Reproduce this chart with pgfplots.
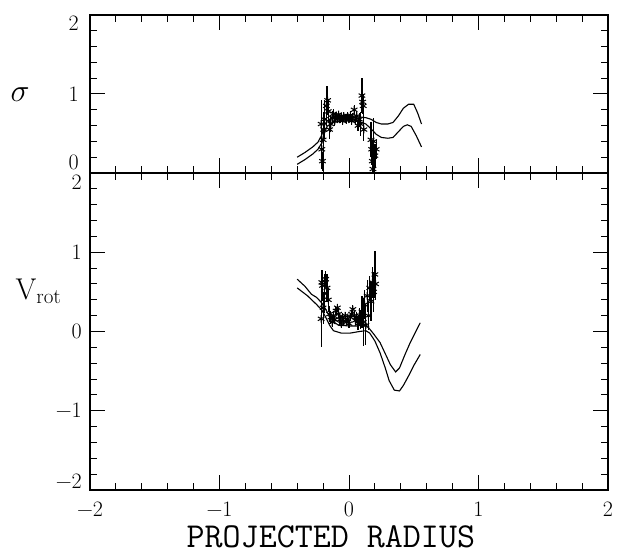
\documentclass[border=0pt]{standalone}
\usepackage{fix-cm}
\usepackage{pgfplots}
\pgfplotsset{compat=1.18}
\usepackage{pgfplotstable}
\usetikzlibrary{plotmarks}

% model curves, sigma panel
\pgfplotstableread{
x y
-0.40 0.20
-0.34 0.26
-0.28 0.33
-0.24 0.39
-0.21 0.48
-0.19 0.60
-0.17 0.66
-0.12 0.70
-0.05 0.71
0.02 0.71
0.08 0.71
0.13 0.70
0.17 0.68
0.21 0.64
0.25 0.62
0.30 0.62
0.34 0.64
0.38 0.72
0.42 0.82
0.46 0.87
0.50 0.87
0.53 0.76
0.56 0.62
}\sigA
\pgfplotstableread{
x y
-0.40 0.11
-0.34 0.17
-0.28 0.24
-0.24 0.30
-0.21 0.38
-0.19 0.50
-0.17 0.59
-0.12 0.64
-0.05 0.66
0.02 0.66
0.08 0.65
0.13 0.62
0.17 0.56
0.21 0.49
0.25 0.45
0.30 0.44
0.34 0.45
0.38 0.52
0.42 0.59
0.45 0.61
0.48 0.59
0.52 0.47
0.56 0.33
}\sigB
% measured sigma with errors
\pgfplotstableread{
x y e
-0.215 0.62 0.30
-0.21 0.30 0.25
-0.205 0.15 0.12
-0.20 0.42 0.35
-0.195 0.55 0.20
-0.19 0.68 0.25
-0.175 0.85 0.25
-0.165 0.92 0.18
-0.16 0.78 0.15
-0.15 0.55 0.12
-0.14 0.62 0.10
-0.13 0.70 0.08
-0.12 0.75 0.06
-0.11 0.66 0.06
-0.10 0.72 0.05
-0.09 0.69 0.05
-0.08 0.74 0.05
-0.07 0.68 0.05
-0.06 0.71 0.05
-0.05 0.66 0.05
-0.04 0.72 0.05
-0.03 0.70 0.05
-0.02 0.67 0.05
-0.01 0.72 0.05
0.00 0.69 0.05
0.01 0.73 0.05
0.02 0.66 0.05
0.03 0.71 0.05
0.04 0.80 0.06
0.05 0.67 0.06
0.06 0.72 0.06
0.07 0.60 0.07
0.08 0.68 0.08
0.09 0.62 0.15
0.10 0.98 0.22
0.105 0.90 0.15
0.11 0.85 0.15
0.115 0.55 0.15
0.17 0.42 0.22
0.175 0.30 0.20
0.18 0.15 0.25
0.185 0.05 0.20
0.19 0.40 0.30
0.20 0.22 0.15
0.21 0.30 0.12
}\sigObs

% model curves, rotation panel
\pgfplotstableread{
x y
-0.40 0.66
-0.34 0.57
-0.29 0.47
-0.25 0.43
-0.21 0.36
-0.18 0.28
-0.16 0.22
-0.12 0.12
-0.08 0.08
0.00 0.07
0.06 0.07
0.11 0.08
0.15 0.05
0.19 -0.03
0.24 -0.14
0.28 -0.28
0.32 -0.42
0.36 -0.51
0.39 -0.46
0.43 -0.30
0.47 -0.15
0.51 -0.02
0.55 0.11
}\rotA
\pgfplotstableread{
x y
-0.40 0.55
-0.32 0.45
-0.25 0.34
-0.21 0.27
-0.18 0.18
-0.15 0.08
-0.12 0.01
-0.06 -0.02
0.01 -0.02
0.08 0.00
0.13 0.01
0.16 -0.02
0.20 -0.12
0.24 -0.27
0.28 -0.46
0.31 -0.62
0.35 -0.74
0.39 -0.75
0.42 -0.68
0.46 -0.56
0.50 -0.43
0.55 -0.29
}\rotB
\pgfplotstableread{
x y e
-0.215 0.16 0.35
-0.21 0.62 0.15
-0.205 0.58 0.20
-0.20 0.30 0.20
-0.19 0.48 0.25
-0.18 0.66 0.10
-0.17 0.55 0.18
-0.16 0.40 0.15
-0.15 0.22 0.10
-0.14 0.18 0.08
-0.13 0.12 0.06
-0.12 0.20 0.06
-0.11 0.15 0.05
-0.10 0.26 0.05
-0.09 0.30 0.05
-0.08 0.22 0.05
-0.07 0.15 0.05
-0.06 0.10 0.05
-0.05 0.18 0.05
-0.04 0.13 0.05
-0.03 0.20 0.05
-0.02 0.12 0.05
-0.01 0.16 0.05
0.00 0.10 0.05
0.01 0.18 0.05
0.02 0.22 0.05
0.03 0.28 0.05
0.04 0.20 0.06
0.05 0.14 0.06
0.06 0.18 0.07
0.07 0.10 0.08
0.08 0.20 0.10
0.09 0.15 0.12
0.10 0.25 0.20
0.11 0.12 0.30
0.12 0.34 0.18
0.13 0.08 0.25
0.14 0.45 0.20
0.15 0.20 0.18
0.16 0.55 0.15
0.17 0.38 0.25
0.18 0.62 0.20
0.19 0.50 0.25
0.20 0.72 0.30
0.205 0.60 0.20
}\rotObs

% tick label: big font, shifted, no height so it sits where it is raised to
\newcommand\tl[2]{{\fontsize{22}{26}\selectfont\raisebox{#1}[0pt][0pt]{#2}}}
\newcommand\xl[1]{{\fontsize{22}{26}\selectfont #1}}

\pgfplotsset{
  panel/.style={
    scale only axis, width=518pt, xmin=-2, xmax=2,
    xtick={-2,-1,0,1,2}, minor x tick num=4, minor y tick num=4,
    tick align=inside, major tick length=15pt, minor tick length=7pt,
    axis line style={line width=1.3pt}, tick style={line width=1pt, black},
  },
  model/.style={no marks, black, line width=1.1pt},
  obs/.style={only marks, black, mark=asterisk, mark size=3.8pt,
    mark options={line width=1pt},
    error bars/.cd, y dir=both, y explicit, error mark=none,
    error bar style={line width=1.2pt}},
}

\begin{document}
\begin{tikzpicture}
\useasboundingbox (-90pt,-62pt) rectangle (528pt,490pt);

\begin{axis}[panel, at={(0pt,317pt)}, anchor=south west,
    height=158pt, ymin=0, ymax=2,
    xticklabel=\empty,
    ytick={0,1,2},
    yticklabels={\tl{0.15em}{0}, \tl{-0.322em}{1}, \tl{-0.70em}{2}},
    yticklabel style={inner sep=0pt, xshift=-11pt},
    ylabel={\fontsize{32}{36}\selectfont$\sigma$},
    every axis y label/.style={at={(axis description cs:-0.135,0.494)},
      anchor=center},
]
\addplot[model] table[x=x,y=y] {\sigA};
\addplot[model] table[x=x,y=y] {\sigB};
\addplot[obs] table[x=x,y=y,y error=e] {\sigObs};
\end{axis}

\begin{axis}[panel, at={(0pt,0pt)}, anchor=south west,
    height=317pt, ymin=-2, ymax=2,
    xticklabels={\xl{−2},\xl{−1},\xl{0},\xl{1},\xl{2}},
    xticklabel style={inner sep=0pt, yshift=-12pt},
    ytick={-2,-1,0,1,2},
    yticklabels={\tl{0.05em}{−2}, \tl{-0.322em}{−1}, \tl{-0.322em}{0},
                 \tl{-0.322em}{1}, \tl{-0.74em}{2}},
    yticklabel style={inner sep=0pt, xshift=-8pt},
    ylabel={\fontsize{30}{34}\selectfont$\mathrm{V}_{\mathrm{rot}}$},
    every axis y label/.style={at={(axis description cs:-0.1506,0.6025)},
      anchor=base west},
    xlabel={PROJECTED RADIUS},
    every axis x label/.style={at={(axis description cs:0.465,-0.18)},
      anchor=base, inner sep=0pt, font=\fontsize{35}{40}\selectfont\ttfamily},
]
\addplot[model] table[x=x,y=y] {\rotA};
\addplot[model] table[x=x,y=y] {\rotB};
\addplot[obs] table[x=x,y=y,y error=e] {\rotObs};
\end{axis}
\end{tikzpicture}
\end{document}
